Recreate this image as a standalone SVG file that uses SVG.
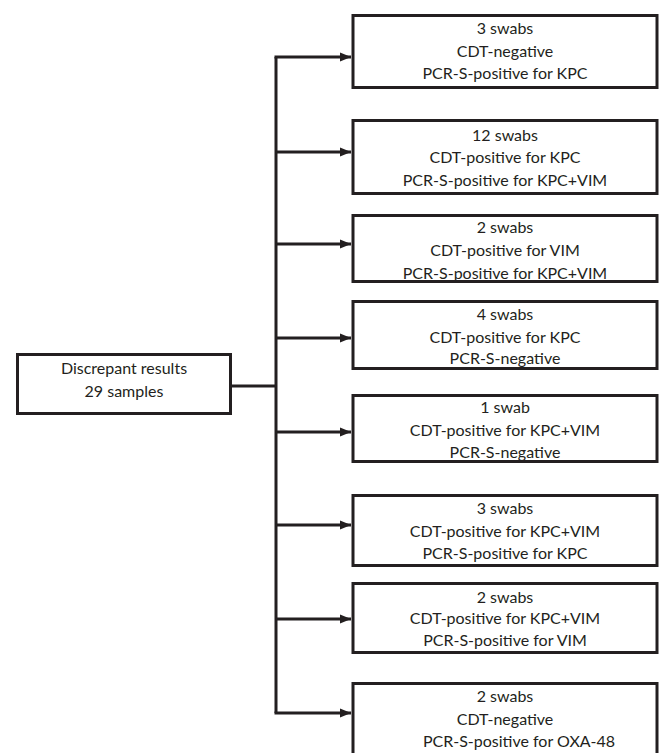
<svg xmlns="http://www.w3.org/2000/svg" width="665" height="753" viewBox="0 0 665 753">
<style>
.box{fill:#fff;stroke:#231f20;stroke-width:3}
.ln{fill:none;stroke:#231f20;stroke-width:3}
text{font-family:Lato,"Liberation Sans",sans-serif;font-size:16px;fill:#231f20;text-anchor:middle}
</style>
<defs>
<marker id="ah" markerUnits="userSpaceOnUse" markerWidth="12" markerHeight="12" viewBox="0 0 12 12" refX="11" refY="6" orient="auto">
<path d="M0,1.5 L11,6 L0,10.5 Z" fill="#231f20"/>
</marker>
</defs>
<g id="connectors">
<path class="ln" d="M232,386 H276"/>
<path class="ln" d="M276,57 V713"/>
<path class="ln" d="M274.5,57 H351" marker-end="url(#ah)"/>
<path class="ln" d="M276,152 H351" marker-end="url(#ah)"/>
<path class="ln" d="M276,244 H351" marker-end="url(#ah)"/>
<path class="ln" d="M276,338 H351" marker-end="url(#ah)"/>
<path class="ln" d="M276,432 H351" marker-end="url(#ah)"/>
<path class="ln" d="M276,525 H351" marker-end="url(#ah)"/>
<path class="ln" d="M276,619 H351" marker-end="url(#ah)"/>
<path class="ln" d="M274.5,713 H351" marker-end="url(#ah)"/>
</g>
<g id="root">
<rect class="box" x="17.5" y="354.5" width="213" height="59"/>
<text x="124" y="374">Discrepant results</text>
<text x="124" y="397">29 samples</text>
</g>
<g id="n1">
<rect class="box" x="353" y="15.5" width="304" height="72"/>
<text x="505" y="34">3 swabs</text>
<text x="505" y="57">CDT-negative</text>
<text x="505" y="79">PCR-S-positive for KPC</text>
</g>
<g id="n2">
<rect class="box" x="353" y="120.5" width="304" height="73"/>
<text x="505" y="141">12 swabs</text>
<text x="505" y="163">CDT-positive for KPC</text>
<text x="505" y="186">PCR-S-positive for KPC+VIM</text>
</g>
<g id="n3">
<rect class="box" x="353" y="215.5" width="304" height="66"/>
<text x="505" y="233">2 swabs</text>
<text x="505" y="256">CDT-positive for VIM</text>
<text x="505" y="279">PCR-S-positive for KPC+VIM</text>
</g>
<g id="n4">
<rect class="box" x="353" y="301.5" width="304" height="67"/>
<text x="505" y="320">4 swabs</text>
<text x="505" y="343">CDT-positive for KPC</text>
<text x="505" y="364">PCR-S-negative</text>
</g>
<g id="n5">
<rect class="box" x="353" y="395.5" width="304" height="66"/>
<text x="505" y="413">1 swab</text>
<text x="505" y="436">CDT-positive for KPC+VIM</text>
<text x="505" y="458">PCR-S-negative</text>
</g>
<g id="n6">
<rect class="box" x="353" y="495.5" width="304" height="70"/>
<text x="505" y="514">3 swabs</text>
<text x="505" y="537">CDT-positive for KPC+VIM</text>
<text x="505" y="559">PCR-S-positive for KPC</text>
</g>
<g id="n7">
<rect class="box" x="353" y="583.5" width="304" height="69"/>
<text x="505" y="603">2 swabs</text>
<text x="505" y="624">CDT-positive for KPC+VIM</text>
<text x="505" y="646">PCR-S-positive for VIM</text>
</g>
<g id="n8">
<rect class="box" x="353" y="683.5" width="304" height="80"/>
<text x="505" y="702">2 swabs</text>
<text x="505" y="725">CDT-negative</text>
<text x="519" y="747">PCR-S-positive for OXA-48</text>
</g>
</svg>
